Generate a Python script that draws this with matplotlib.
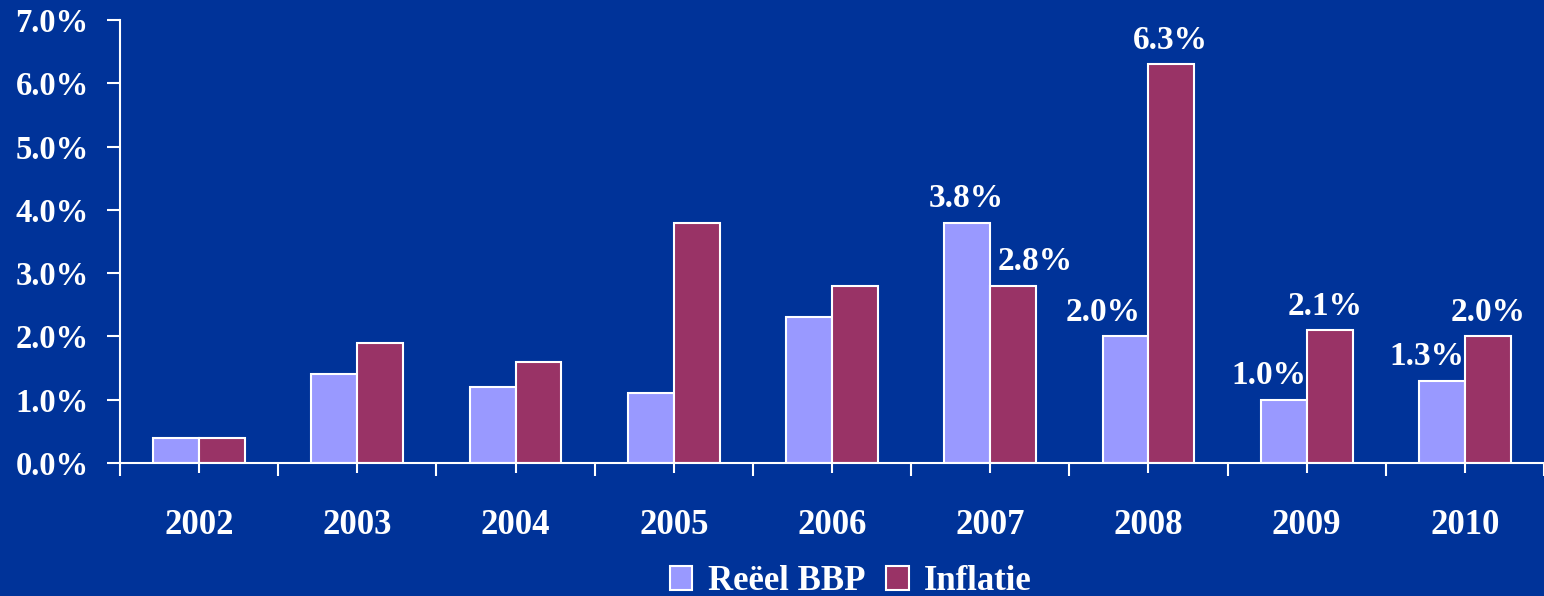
import numpy as np
import matplotlib.pyplot as plt
from matplotlib.ticker import FixedLocator, PercentFormatter

years = ['2002', '2003', '2004', '2005', '2006', '2007', '2008', '2009', '2010']
bbp = [0.4, 1.4, 1.2, 1.1, 2.3, 3.8, 2.0, 1.0, 1.3]
inflatie = [0.4, 1.9, 1.6, 3.8, 2.8, 2.8, 6.3, 2.1, 2.0]

# which bars get a value label, with a small sideways shift (points)
bbp_labels = {5: -1, 6: -16, 7: -11, 8: -11}
infl_labels = {5: 16, 6: -1, 7: -3, 8: 0}

bg = '#003399'
c_bbp = '#9999FF'
c_infl = '#993366'
font = 'Liberation Serif'

plt.rcParams['font.family'] = font
plt.rcParams['font.weight'] = 'bold'

fig = plt.figure(figsize=(15.44, 5.96), dpi=100, facecolor=bg)
ax = fig.add_axes([0.0777, 0.2232, 0.9223, 0.7432], facecolor=bg)

x = np.arange(len(years))
w = 0.29
b1 = ax.bar(x - w / 2, bbp, w, color=c_bbp, edgecolor='white', linewidth=1.5, label='Reëel BBP')
b2 = ax.bar(x + w / 2, inflatie, w, color=c_infl, edgecolor='white', linewidth=1.5, label='Inflatie')

for i, dx in bbp_labels.items():
    ax.annotate(f'{bbp[i]:.1f}%', (x[i] - w / 2, bbp[i]), xytext=(dx, 6),
                textcoords='offset points', ha='center', va='bottom',
                color='white', fontsize=24, fontweight='bold')
for i, dx in infl_labels.items():
    ax.annotate(f'{inflatie[i]:.1f}%', (x[i] + w / 2, inflatie[i]), xytext=(dx, 6),
                textcoords='offset points', ha='center', va='bottom',
                color='white', fontsize=24, fontweight='bold')

ax.set_xlim(-0.5, len(years) - 0.5)
ax.set_ylim(0, 7)
ax.yaxis.set_major_locator(FixedLocator(np.arange(0, 7.01, 1)))
ax.yaxis.set_major_formatter(PercentFormatter(decimals=1))

ax.xaxis.set_major_locator(FixedLocator(np.arange(-0.5, len(years), 1)))
ax.xaxis.set_major_formatter(plt.NullFormatter())
ax.xaxis.set_minor_locator(FixedLocator(x))
ax.set_xticklabels(years, minor=True)

ax.tick_params(axis='y', colors='white', labelsize=23.5, length=9.5, width=1.5, pad=13)
ax.tick_params(axis='x', which='major', colors='white', length=9.5, width=1.5)
ax.tick_params(axis='x', which='minor', colors='white', labelsize=25, length=7, width=1.5, pad=26)

for s in ['top', 'right']:
    ax.spines[s].set_visible(False)
for s in ['left', 'bottom']:
    ax.spines[s].set_color('white')
    ax.spines[s].set_linewidth(1.5)

leg = fig.legend(handles=[b1, b2], loc='center', bbox_to_anchor=(0.551, 0.024), ncol=2,
                 frameon=False, fontsize=25, handlelength=0.65, handleheight=0.65,
                 handletextpad=0.45, columnspacing=0.6, borderpad=0)
for t in leg.get_texts():
    t.set_color('white')

fig.savefig('out.png', dpi=100, facecolor=bg)
